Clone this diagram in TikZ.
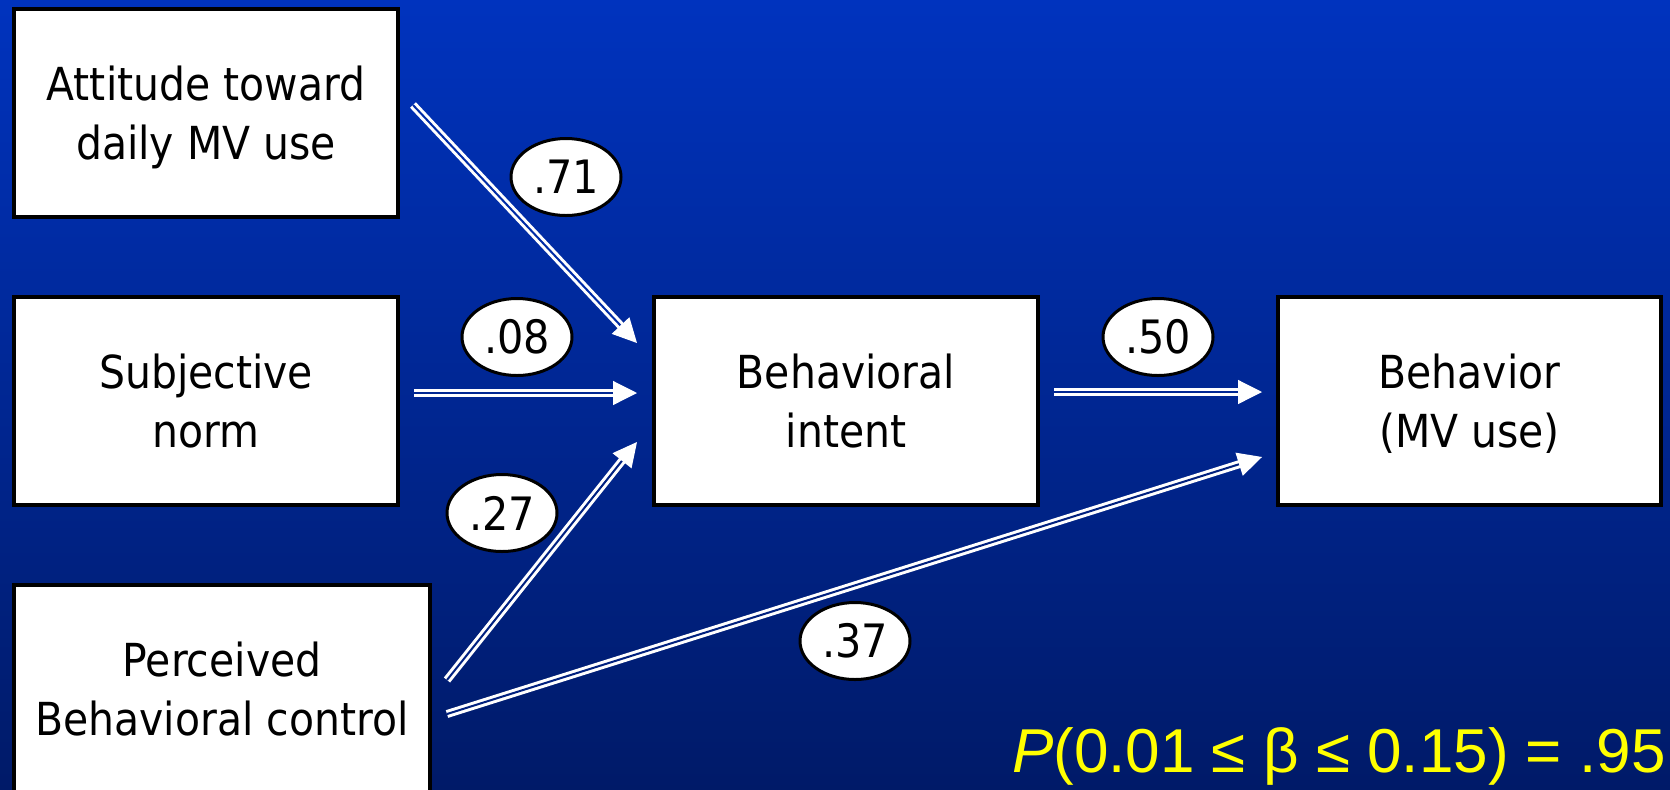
\documentclass[tikz,border=0pt]{standalone}
\usepackage{fontspec}
\setmainfont{Liberation Sans}
\newfontfamily\boxfont[FakeStretch=0.9]{DejaVu Sans}
\usetikzlibrary{arrows.meta,calc,shapes.geometric}

\definecolor{bgtop}{RGB}{0,51,190}
\definecolor{bgbot}{RGB}{0,26,104}
\definecolor{gapA}{RGB}{0,44,166}
\definecolor{gapB}{RGB}{0,39,147}
\definecolor{gapC}{RGB}{0,33,129}
\definecolor{gapD}{RGB}{0,32,126}
\definecolor{probyellow}{RGB}{255,255,0}

\begin{document}
\begin{tikzpicture}[x=0.5pt,y=-0.5pt,
  varbox/.style={draw=black,line width=2pt,fill=white,inner sep=0pt,
    minimum width=192pt,minimum height=104pt,align=center,text depth=0pt,
    font=\boxfont\fontsize{22.75}{29.5}\selectfont},
  coef/.style={ellipse,draw=black,line width=1.5pt,fill=white,inner sep=0pt,
    minimum width=55pt,minimum height=38.5pt,
    font=\boxfont\fontsize{23}{28}\selectfont},
  dbl/.style={draw=white,line width=1.5pt,double=#1,double distance=1pt,
    shorten >=11pt},
  head/.style={draw=white,line width=0.6pt,
    -{Triangle[length=12pt,width=12pt,fill=white]}}]

% background
\useasboundingbox (0,0) rectangle (1670,789);
\clip (0,0) rectangle (1670,789);
\shade[top color=bgtop,bottom color=bgbot] (0,0) rectangle (1670,789);

% variables
\node[varbox] (att) at (206,113) {Attitude toward\\daily MV use};
\node[varbox] (norm) at (206,401) {Subjective\\norm};
\node[varbox,minimum width=208pt] (pbc) at (222,689) {Perceived\\Behavioral control};
\node[varbox] (intent) at (846,401) {Behavioral\\intent};
\node[varbox,minimum width=191.5pt] (beh) at (1469.5,401) {Behavior\\(MV use)};

% path end points
\coordinate (s1) at ($(att.east)+(13,-8)$);
\coordinate (e1) at ($(intent.west)+(-15,-58)$);
\coordinate (s2) at ($(norm.east)+(14,-8)$);
\coordinate (e2) at ($(intent.west)+(-15,-8)$);
\coordinate (s3) at ($(pbc.east)+(15,-9)$);
\coordinate (e3) at ($(intent.west)+(-15,41)$);
\coordinate (s4) at ($(pbc.east)+(15,25)$);
\coordinate (e4) at ($(beh.west)+(-14,56)$);
\coordinate (s5) at ($(intent.east)+(14,-9)$);
\coordinate (e5) at ($(beh.west)+(-14,-9)$);

% paths: double shaft plus solid head
\draw[dbl=gapA] (s1) -- (e1);
\draw[head] ($(e1)!12pt!(s1)$) -- (e1);
\draw[dbl=gapB] (s2) -- (e2);
\draw[head] ($(e2)!12pt!(s2)$) -- (e2);
\draw[dbl=gapC] (s3) -- (e3);
\draw[head] ($(e3)!12pt!(s3)$) -- (e3);
\draw[dbl=gapD] (s4) -- (e4);
\draw[head] ($(e4)!12pt!(s4)$) -- (e4);
\draw[dbl=gapB] (s5) -- (e5);
\draw[head] ($(e5)!12pt!(s5)$) -- (e5);

% path coefficients
\node[coef] (c71) at (566,177) {.71};
\node[coef] (c08) at (517,337) {.08};
\node[coef] (c27) at (502,513) {.27};
\node[coef] (c50) at (1158,337) {.50};
\node[coef] (c37) at (855,641) {.37};

% interval statement
\node[anchor=base east,inner sep=0pt,text=probyellow,
  font=\fontsize{31}{37}\selectfont] (prob) at (1666,772)
  {\textit{P}(0.01 ≤ β ≤ 0.15) = .95};
\end{tikzpicture}
\end{document}
